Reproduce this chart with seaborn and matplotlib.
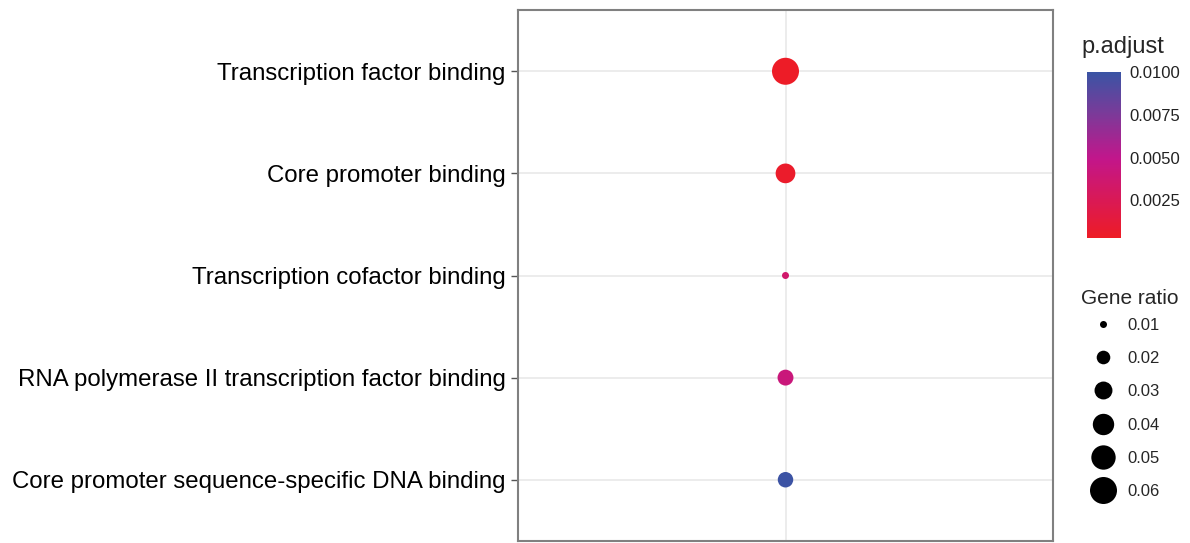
import numpy as np
import pandas as pd
import matplotlib
matplotlib.use('Agg')
import matplotlib.pyplot as plt
import seaborn as sns
from matplotlib.colors import LinearSegmentedColormap, Normalize
from matplotlib.lines import Line2D

# GO terms, read top to bottom from the reference
terms = ['Transcription factor binding',
         'Core promoter binding',
         'Transcription cofactor binding',
         'RNA polymerase II transcription factor binding',
         'Core promoter sequence-specific DNA binding']
gene_ratio = [0.062, 0.035, 0.010, 0.025, 0.024]
p_adjust = [0.0004, 0.0006, 0.0035, 0.0042, 0.0099]
group = ['GO'] * 5

# legend values
size_breaks = [0.01, 0.02, 0.03, 0.04, 0.05, 0.06]
cbar_ticks = [0.0025, 0.0050, 0.0075, 0.0100]

df = pd.DataFrame({'term': terms, 'ratio': gene_ratio, 'p': p_adjust, 'group': group})

sns.set_style('white')
plt.rcParams['font.family'] = ['Liberation Sans', 'DejaVu Sans']

#red -> magenta -> blue like ggplot's gradient
cmap = LinearSegmentedColormap.from_list(
    'padj', [(0.0, '#EE1C25'), (0.48, '#C2168B'), (0.75, '#7B3A99'), (1.0, '#3A54A4')])
pmin, pmax = 0.0003, 0.0100
norm = Normalize(pmin, pmax)

# sizes in pt^2 (area linear in value like scale_size)
smin, smax = (7 * 0.72) ** 2, (27 * 0.72) ** 2

fig = plt.figure(figsize=(11.9, 5.43), dpi=100)
W, H = 1190, 543
ax = fig.add_axes([518 / W, (H - 541) / H, (1053 - 518) / W, (541 - 10) / H])

sns.scatterplot(data=df, x='group', y='term', hue='p', size='ratio',
                palette=cmap, hue_norm=norm, sizes=(smin, smax),
                size_norm=(0.01, 0.06), linewidth=0, legend=False, ax=ax, zorder=3)

ax.set_ylim(4.6, -0.6)
ax.set_xlim(-0.6, 0.6)
ax.set_xlabel('')
ax.set_ylabel('')
ax.set_xticks([0])
ax.set_xticklabels([''])
ax.set_yticks(range(len(terms)))
ax.set_yticklabels(terms, fontsize=17.3, color='black')
ax.tick_params(axis='y', length=5, width=1, color='#555555', pad=4, left=True)
ax.tick_params(axis='x', length=0)
ax.grid(True, color='#EBEBEB', linewidth=1.3)
ax.set_axisbelow(True)
for sp in ax.spines.values():
    sp.set_color('#808080')
    sp.set_linewidth(1.5)

# colorbar for p.adjust
cax = fig.add_axes([1087 / W, (H - 238) / H, (1121 - 1087) / W, (238 - 72) / H])
sm = plt.cm.ScalarMappable(norm=norm, cmap=cmap)
cb = fig.colorbar(sm, cax=cax, ticks=cbar_ticks)
cb.outline.set_visible(False)
cb.ax.set_yticklabels([f'{t:.4f}' for t in cbar_ticks], fontsize=12, color='#222222')
cb.ax.tick_params(direction='in', color='white', length=5, width=0.8, left=True, right=True, pad=6)
fig.text(1081 / W, (H - 47) / H, 'p.adjust', fontsize=17, va='center', ha='left')

# size legend for gene ratio
handles = [Line2D([], [], marker='o', linestyle='', color='black', markeredgewidth=0,
                  markersize=np.sqrt(smin + (smax - smin) * (v - 0.01) / 0.05))
           for v in size_breaks]
fig.text(1081 / W, (H - 298) / H, 'Gene ratio', fontsize=15, va='center', ha='left')
leg = fig.legend(handles, [f'{v:.2f}' for v in size_breaks],
                 loc='upper left', bbox_to_anchor=(1079 / W, (H - 315) / H),
                 frameon=False, fontsize=12,
                 labelspacing=1.1, handletextpad=0.15, handlelength=2.6,
                 borderpad=0.15, borderaxespad=0)

fig.savefig('out.png', dpi=100)
